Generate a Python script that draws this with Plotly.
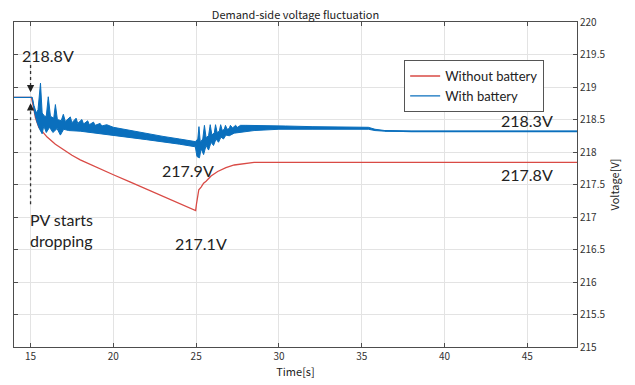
import plotly.graph_objects as go

# ---- data ----
red_t = [14, 15.05, 15.15, 15.3, 15.5, 15.75, 16.0, 16.5, 17.0, 17.5, 18.0, 19, 20, 21, 22, 23, 24, 24.97,
         25.02, 25.16, 25.3, 25.45, 25.6, 25.9, 26.3, 26.8, 27.3, 28.5, 30, 35, 48]
red_v = [218.84, 218.84, 218.72, 218.52, 218.38, 218.3, 218.23, 218.12, 218.03, 217.95, 217.88, 217.76, 217.65,
         217.54, 217.43, 217.32, 217.21, 217.1,
         217.2, 217.42, 217.46, 217.52, 217.55, 217.63, 217.7, 217.76, 217.8, 217.84, 217.84, 217.84, 217.84]

# upper envelope of the battery trace (with its oscillation peaks)
blue_up_t = [14, 15.1, 15.2, 15.35, 15.45, 15.6, 15.7, 15.85, 15.95, 16.07, 16.2, 16.4, 16.5, 16.62, 16.85,
             16.98, 17.1, 17.4, 17.5, 17.75, 17.85, 18.1, 18.2, 18.45, 18.55, 18.8, 18.9, 19.2, 19.3, 19.6,
             20, 21, 22, 23, 24, 24.95,
             25.1, 25.17, 25.25, 25.4, 25.5, 25.6, 25.75, 25.85, 25.95, 26.1, 26.17, 26.27, 26.4, 26.48,
             26.58, 26.7, 26.77, 26.87, 27.0, 27.07, 27.2, 27.38, 27.5, 27.68, 28, 29, 30.4, 32, 35.4,
             35.8, 36.4, 38, 48]
blue_up_v = [218.84, 218.84, 218.72, 218.6, 218.65, 219.06, 218.6, 218.55, 218.55, 218.85, 218.55, 218.52,
             218.73, 218.5, 218.48, 218.58, 218.47, 218.54, 218.45, 218.52, 218.44, 218.5, 218.43, 218.48,
             218.42, 218.46, 218.41, 218.44, 218.4, 218.42,
             218.38, 218.33, 218.28, 218.24, 218.2, 218.16,
             218.2, 218.39, 218.15, 218.2, 218.41, 218.22, 218.25, 218.42, 218.26, 218.3, 218.42, 218.3,
             218.32, 218.42, 218.33, 218.35, 218.41, 218.35, 218.36, 218.41, 218.37, 218.41, 218.38, 218.41,
             218.41, 218.41, 218.4, 218.39, 218.38,
             218.35, 218.33, 218.32, 218.32]

# lower envelope of the battery trace (with its oscillation troughs)
blue_lo_t = [14, 15.1, 15.25, 15.4, 15.55, 15.7, 15.8, 15.95, 16.15, 16.35, 16.6, 16.8, 17.0, 17.3, 18,
             19, 20.4, 22, 24, 24.95,
             25.05, 25.2, 25.3, 25.45, 25.6, 25.75, 25.9, 26.05, 26.2, 26.35, 26.5, 26.65, 26.8, 27, 27.3,
             27.7, 28.5, 30, 32, 35.4, 35.8, 36.4, 38, 48]
blue_lo_v = [218.84, 218.84, 218.6, 218.45, 218.35, 218.28, 218.4, 218.3, 218.38, 218.3, 218.36, 218.26,
             218.35, 218.33, 218.32, 218.28, 218.24, 218.19, 218.12, 218.08,
             217.93, 217.91, 218.05, 217.96, 218.1, 218.03, 218.15, 218.1, 218.2, 218.15, 218.23, 218.2,
             218.26, 218.25, 218.29, 218.31, 218.33, 218.35, 218.35, 218.35, 218.33, 218.32, 218.31, 218.31]

# steady part used for the legend sample
blue_tail_t = [36.4, 38, 48]
blue_tail_v = [218.325, 218.315, 218.315]

x_ticks = [15, 20, 25, 30, 35, 40, 45]
y_ticks = [215, 215.5, 216, 216.5, 217, 217.5, 218, 218.5, 219, 219.5, 220]

labels = [
    ("218.8V", 16.05, 219.48),
    ("217.9V", 24.5, 217.72),
    ("217.1V", 25.3, 216.6),
    ("218.3V", 45.0, 218.48),
    ("217.8V", 45.0, 217.65),
]

RED = "#d94a45"
BLUE = "#0a6fbd"
TXT = "#222222"
AX = "#4d4d4d"
GRID = "#e3e3e3"

fig = go.Figure()

fig.add_trace(go.Scatter(x=red_t, y=red_v, mode="lines", name="Without battery",
                         line=dict(color=RED, width=1.3)))

band_x = blue_up_t + blue_lo_t[::-1]
band_y = blue_up_v + blue_lo_v[::-1]
fig.add_trace(go.Scatter(x=band_x, y=band_y, mode="lines", fill="toself", fillcolor=BLUE,
                         line=dict(color=BLUE, width=1), showlegend=False, hoverinfo="skip"))

fig.add_trace(go.Scatter(x=blue_tail_t, y=blue_tail_v, mode="lines", name="With battery",
                         line=dict(color=BLUE, width=1.3)))

# dotted marker at PV drop
fig.add_shape(type="line", x0=15, x1=15, y0=219.34, y1=218.95, xref="x", yref="y",
              line=dict(color="#333333", width=1.3, dash="dot"))
fig.add_shape(type="line", x0=15, x1=15, y0=218.72, y1=217.18, xref="x", yref="y",
              line=dict(color="#333333", width=1.3, dash="dot"))
fig.add_annotation(x=15, y=218.92, ax=0, ay=-8, text="", showarrow=True, arrowhead=2,
                   arrowsize=1.2, arrowwidth=1.2, arrowcolor="#222222", xref="x", yref="y")
fig.add_annotation(x=15, y=218.75, ax=0, ay=8, text="", showarrow=True, arrowhead=2,
                   arrowsize=1.2, arrowwidth=1.2, arrowcolor="#222222", xref="x", yref="y")

for txt, xv, yv in labels:
    fig.add_annotation(x=xv, y=yv, text=txt, showarrow=False, xref="x", yref="y",
                       font=dict(family="Lato", size=16, color=TXT))

fig.add_annotation(x=14.85, y=216.8, text="PV starts<br>dropping", showarrow=False, xref="x", yref="y",
                   xanchor="left", align="left", font=dict(family="Lato", size=16, color=TXT))

fig.update_layout(
    width=635, height=385,
    margin=dict(l=14, r=58, t=22, b=38, autoexpand=False),
    paper_bgcolor="white", plot_bgcolor="white",
    title=dict(text="Demand-side voltage fluctuation", x=0.5, xref="paper", xanchor="center",
               y=1, yref="paper", yanchor="bottom", pad=dict(b=3), automargin=False,
               font=dict(family="Noto Sans CJK JP", size=11, color=TXT)),
    legend=dict(x=0.693, y=0.883, xanchor="left", yanchor="top", bgcolor="white",
                bordercolor="#555555", borderwidth=1, font=dict(family="Lato", size=13, color=TXT),
                tracegroupgap=0, itemwidth=30),
    showlegend=True,
)

fig.update_xaxes(range=[14, 48], tickvals=x_ticks, ticks="inside", ticklen=4, tickcolor=AX,
                 showline=True, linecolor=AX, linewidth=1, mirror="ticks", automargin=False,
                 showgrid=True, gridcolor=GRID, gridwidth=1, zeroline=False,
                 title=dict(text="Time[s]", standoff=2, font=dict(family="Noto Sans CJK JP", size=11, color=TXT)),
                 tickfont=dict(family="Noto Sans CJK JP", size=10, color="#333333"))
fig.update_yaxes(range=[215, 220], tickvals=y_ticks, side="right", ticks="inside", ticklen=4, tickcolor=AX,
                 showline=True, linecolor=AX, linewidth=1, mirror="ticks", automargin=False,
                 showgrid=True, gridcolor=GRID, gridwidth=1, zeroline=False,
                 title=dict(text="Voltage[V]", standoff=6, font=dict(family="Noto Sans CJK JP", size=11, color=TXT)),
                 tickfont=dict(family="Noto Sans CJK JP", size=10, color="#333333"))

fig.write_html("out.html", config={"displayModeBar": False},
               post_script="document.body.style.margin='0';document.body.style.overflow='hidden';")
